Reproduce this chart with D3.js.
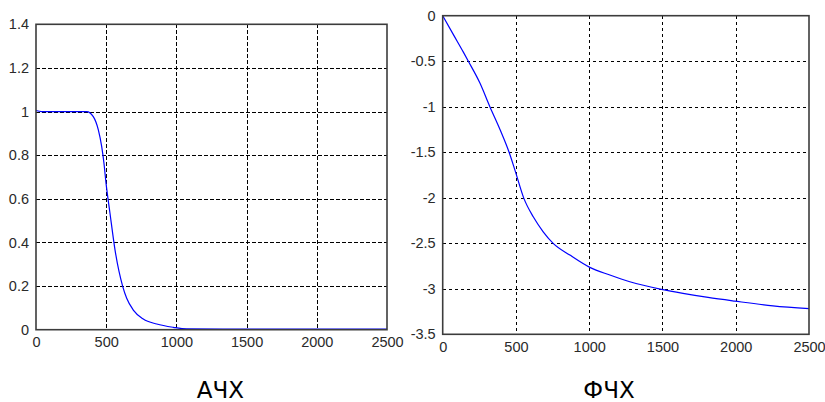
<!DOCTYPE html>
<html>
<head>
<meta charset="utf-8">
<script src="https://cdn.jsdelivr.net/npm/d3@7"></script>
<style>
  html, body { margin: 0; padding: 0; background: #fff; }
  svg { display: block; }
  .tick text { font-family: "Liberation Sans", Arial, sans-serif; font-size: 14.5px; fill: #2a2a2a; }
  .title { font-family: "DejaVu Sans", Verdana, sans-serif; font-size: 23px; fill: #000; }
</style>
</head>
<body>
<svg id="chart" width="825" height="402"></svg>
<script>
// Frequency response: magnitude (АЧХ) and phase (ФЧХ), frequency 0..2500
const freqTicks = [0, 500, 1000, 1500, 2000, 2500];

const magFreq = [0, 40, 361, 408, 444, 468, 484, 499, 527, 563, 617, 646, 693, 764, 860, 978, 1073, 1500, 2000, 2500];
const magValue = [1.005, 1.0, 1.0, 0.977, 0.916, 0.839, 0.763, 0.671, 0.534, 0.365, 0.200, 0.144, 0.090, 0.049, 0.026, 0.011, 0.004, 0.003, 0.003, 0.003];
const magTicks = [0, 0.2, 0.4, 0.6, 0.8, 1, 1.2, 1.4];

const phaseFreq = [0, 72, 141, 175, 254, 322, 391, 452, 493, 554, 618, 686, 754, 868, 1004, 1141, 1277, 1493, 1640, 1811, 1993, 2254, 2500];
const phaseValue = [0, -0.205, -0.400, -0.500, -0.740, -1.000, -1.250, -1.495, -1.696, -2.007, -2.209, -2.374, -2.501, -2.630, -2.765, -2.849, -2.923, -3.007, -3.051, -3.095, -3.135, -3.187, -3.218];
const phaseTicks = [-3.5, -3, -2.5, -2, -1.5, -1, -0.5, 0];

const svg = d3.select("#chart");

function panel(cfg) {
  const x = d3.scaleLinear().domain([0, 2500]).range([cfg.left, cfg.right]);
  const y = d3.scaleLinear().domain(cfg.yDomain).range([cfg.bottom, cfg.top]);
  const g = svg.append("g");

  // dashed grid
  const grid = g.append("g").attr("stroke", "#000").attr("stroke-width", 1)
    .attr("stroke-dasharray", "3.5,2.5").attr("shape-rendering", "crispEdges");
  grid.selectAll("line.gx").data(freqTicks.slice(1, -1)).join("line")
    .attr("x1", d => Math.round(x(d)) + 0.5).attr("x2", d => Math.round(x(d)) + 0.5)
    .attr("y1", cfg.top).attr("y2", cfg.bottom);
  grid.selectAll("line.gy").data(cfg.yTicks.filter(v => v !== cfg.yDomain[0] && v !== cfg.yDomain[1])).join("line")
    .attr("y1", d => Math.round(y(d)) + 0.5).attr("y2", d => Math.round(y(d)) + 0.5)
    .attr("x1", cfg.left).attr("x2", cfg.right);

  // curve
  const line = d3.line().x(d => x(d[0])).y(d => y(d[1])).curve(d3.curveMonotoneX);
  g.append("path")
    .datum(d3.zip(cfg.xs, cfg.ys))
    .attr("fill", "none").attr("stroke", "#0000ff").attr("stroke-width", 1.2)
    .attr("d", line);

  // axes box
  g.append("rect")
    .attr("x", cfg.left).attr("y", cfg.top)
    .attr("width", cfg.right - cfg.left).attr("height", cfg.bottom - cfg.top)
    .attr("fill", "none").attr("stroke", "#3c3c3c").attr("stroke-width", 1.6);

  // axis labels
  const xAxis = d3.axisBottom(x).tickValues(freqTicks).tickFormat(d3.format("d")).tickSize(0).tickPadding(7);
  g.append("g").attr("transform", `translate(0,${cfg.bottom})`).call(xAxis)
    .call(a => a.select(".domain").remove());
  const yAxis = d3.axisLeft(y).tickValues(cfg.yTicks).tickFormat(d => String(d)).tickSize(0).tickPadding(7);
  g.append("g").attr("transform", `translate(${cfg.left},0)`).call(yAxis)
    .call(a => a.select(".domain").remove());

  g.append("text").attr("class", "title")
    .attr("x", cfg.titleX).attr("y", 397.5).attr("text-anchor", "middle")
    .text(cfg.title);
}

panel({ left: 36, right: 387, top: 24.3, bottom: 329.7, yDomain: [0, 1.4], yTicks: magTicks,
        xs: magFreq, ys: magValue, title: "АЧХ", titleX: 220.5 });
panel({ left: 442.7, right: 809, top: 15.7, bottom: 334.3, yDomain: [-3.5, 0], yTicks: phaseTicks,
        xs: phaseFreq, ys: phaseValue, title: "ФЧХ", titleX: 609 });
</script>
</body>
</html>
